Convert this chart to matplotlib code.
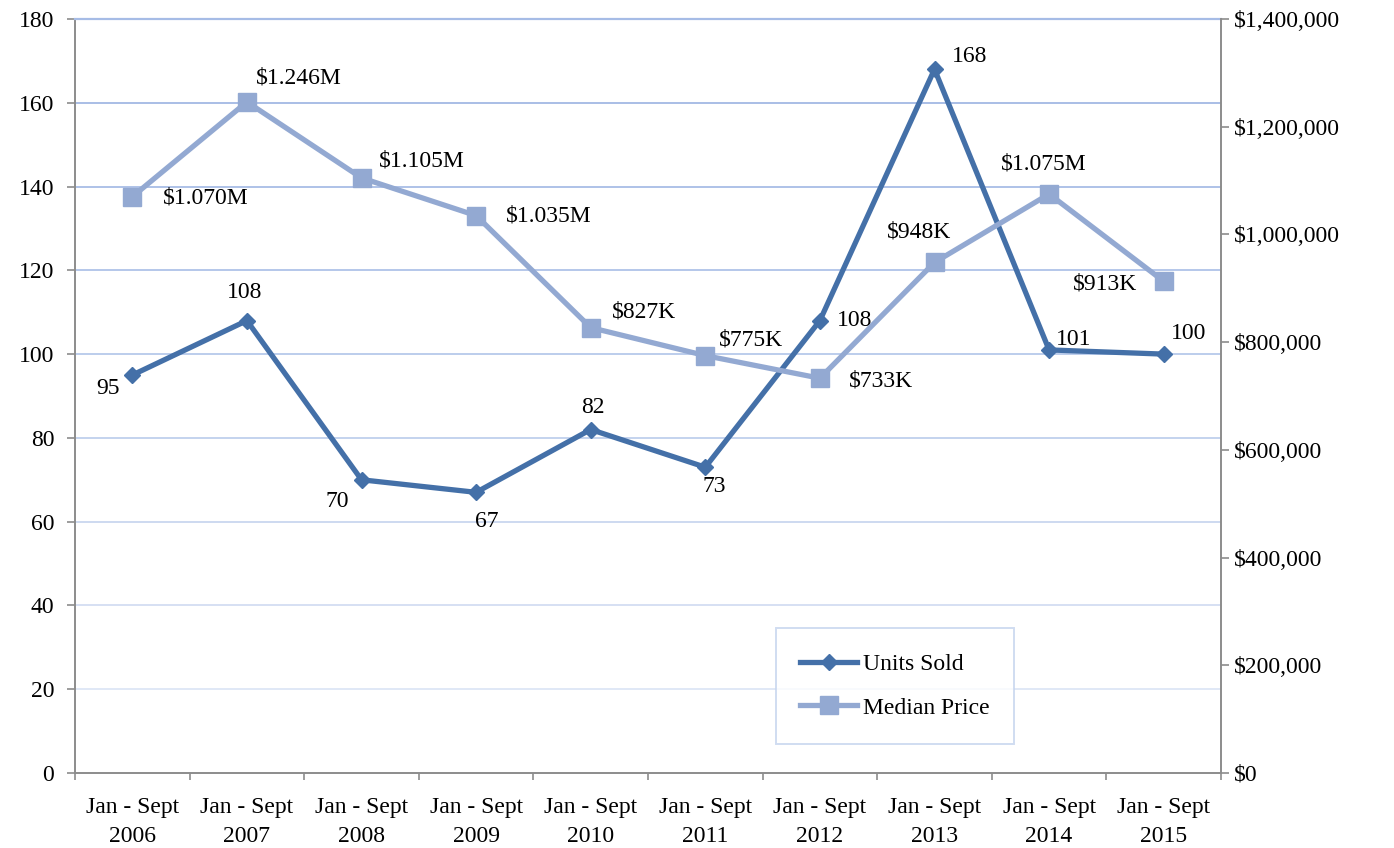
import matplotlib
matplotlib.use('Agg')
from matplotlib import pyplot as plt
from matplotlib.ticker import FuncFormatter

years = ['2006', '2007', '2008', '2009', '2010', '2011', '2012', '2013', '2014', '2015']
units_sold = [95, 108, 70, 67, 82, 73, 108, 168, 101, 100]
median_price = [1070000, 1246000, 1105000, 1035000, 827000, 775000, 733000, 948000, 1075000, 913000]
price_labels = ['$1.070M', '$1.246M', '$1.105M', '$1.035M', '$827K',
                '$775K', '$733K', '$948K', '$1.075M', '$913K']

# label offsets in pixels (dx, dy) from each marker
units_offsets = [(-24, -13), (-2, 28), (-24, -22), (11, -29), (2, 22),
                 (9, -19), (35, 0), (35, 13), (25, 10), (25, 21)]
price_offsets = [(73, -1), (52, 24), (60, 17), (73, 0), (53, 16),
                 (46, 16), (61, -3), (-15, 30), (-5, 30), (-59, -3)]

dark = '#4470a8'
light = '#93a9d2'
spine_grey = '#8c8c8c'
font = ['Liberation Serif', 'DejaVu Serif']
plt.rcParams['font.family'] = font
fs = 17

fig = plt.figure(figsize=(13.94, 8.48), dpi=100)
ax = fig.add_axes([75 / 1394, 1 - 773 / 848, 1146 / 1394, 754 / 848])
x = list(range(len(years)))

ax.plot(x, units_sold, color=dark, lw=3.8, marker='D', ms=8.5, label='Units Sold', zorder=3)
ax.set_ylim(0, 180)
ax.set_yticks(range(0, 181, 20))
ax.set_xlim(-0.5, len(years) - 0.5)
ax.set_xticks([i - 0.5 for i in range(len(years) + 1)])
ax.set_xticklabels([])
ax.set_xticks(x, minor=True)
ax.set_xticklabels([f'Jan - Sept\n{y}' for y in years], minor=True, linespacing=1.5)
ax.tick_params(axis='x', which='minor', length=0, pad=17, labelsize=fs)
ax.tick_params(axis='x', which='major', direction='out', length=5, color=spine_grey, width=1.2)
ax.tick_params(axis='y', direction='out', length=6, color=spine_grey, width=1.2, labelsize=fs, pad=9)

ax.grid(axis='y', lw=1.4)
grid_colors = ['#ffffff', '#e0e8f6', '#d6e0f3', '#cdd9f0', '#c4d3ee',
               '#bccdec', '#b4c7ea', '#aec2e8', '#a9bee6', '#a6bce6']
for gl, c in zip(ax.get_ygridlines(), grid_colors):
    gl.set_color(c)
ax.set_axisbelow(True)

for side in ['top', 'right']:
    ax.spines[side].set_visible(False)
for side in ['left', 'bottom']:
    ax.spines[side].set_color(spine_grey)
    ax.spines[side].set_linewidth(1.4)

ax2 = ax.twinx()
ax2.plot(x, median_price, color=light, lw=3.8, marker='s', ms=13, label='Median Price', zorder=3)
ax2.set_ylim(0, 1400000)
ax2.set_yticks(range(0, 1400001, 200000))
ax2.yaxis.set_major_formatter(FuncFormatter(lambda v, p: f'${v:,.0f}'))
ax2.tick_params(axis='y', direction='out', length=6, color=spine_grey, width=1.2, labelsize=fs, pad=3)
for side in ['top', 'left', 'bottom']:
    ax2.spines[side].set_visible(False)
ax2.spines['right'].set_color(spine_grey)
ax2.spines['right'].set_linewidth(1.4)
# top gridline sits on the axes edge
ax2.axhline(1400000, color='#a6bce6', lw=1.6, clip_on=False, zorder=1)

for xi, v, off in zip(x, units_sold, units_offsets):
    ax.annotate(str(v), (xi, v), xytext=off, textcoords='offset pixels',
                ha='center', va='center', fontsize=fs)
for xi, v, lab, off in zip(x, median_price, price_labels, price_offsets):
    ax2.annotate(lab, (xi, v), xytext=off, textcoords='offset pixels',
                 ha='center', va='center', fontsize=fs)

h1, l1 = ax.get_legend_handles_labels()
h2, l2 = ax2.get_legend_handles_labels()
leg = ax2.legend(h1 + h2, l1 + l2, loc='center', bbox_to_anchor=(0.7155, 0.1154),
                 fontsize=fs, frameon=True, fancybox=False, borderpad=1.05,
                 handlelength=2.4, handletextpad=0.25, labelspacing=0.95)
leg.get_frame().set_edgecolor('#c5d4ee')
leg.get_frame().set_linewidth(1.4)

fig.savefig('out.png', dpi=100)
